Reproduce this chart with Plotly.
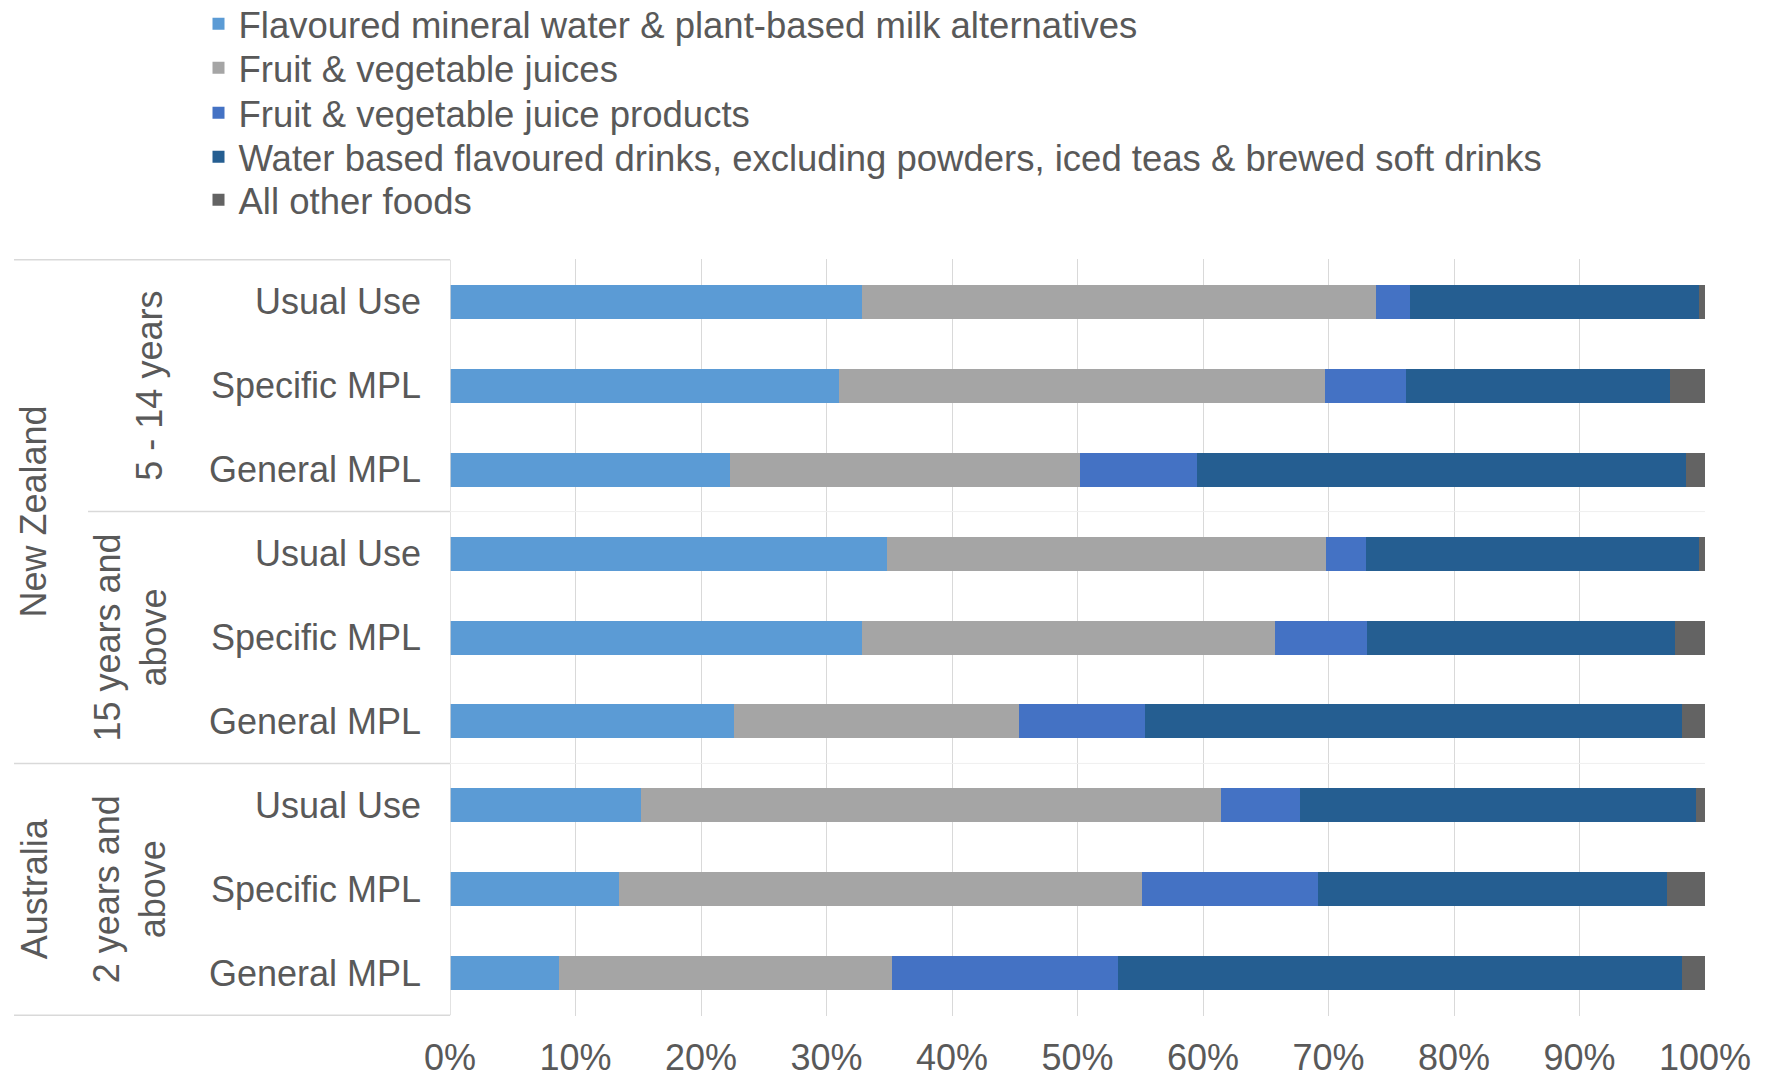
import plotly.graph_objects as go

# ---- data ----
row_ids = ["NZ1_UU", "NZ1_SM", "NZ1_GM", "NZ2_UU", "NZ2_SM", "NZ2_GM", "AU_UU", "AU_SM", "AU_GM"]
row_labels = ["Usual Use", "Specific MPL", "General MPL"] * 3

series_names = [
    "Flavoured mineral water & plant-based milk alternatives",
    "Fruit & vegetable juices",
    "Fruit & vegetable juice products",
    "Water based flavoured drinks, excluding powders, iced teas & brewed soft drinks",
    "All other foods",
]
flavoured_water = [32.8, 31.0, 22.3, 34.8, 32.8, 22.6, 15.2, 13.5, 8.7]
fv_juices       = [41.0, 38.7, 27.9, 35.0, 32.9, 22.7, 46.2, 41.6, 26.5]
fv_juice_prod   = [2.7, 6.5, 9.3, 3.2, 7.4, 10.1, 6.3, 14.1, 18.0]
water_based     = [23.0, 21.0, 39.0, 26.5, 24.5, 42.8, 31.6, 27.8, 45.0]
other_foods     = [0.5, 2.8, 1.5, 0.5, 2.4, 1.8, 0.7, 3.0, 1.8]
series_values = [flavoured_water, fv_juices, fv_juice_prod, water_based, other_foods]
colors = ["#5B9BD5", "#A5A5A5", "#4472C4", "#255E91", "#636363"]

x_ticks = list(range(0, 101, 10))

FONT = "Liberation Sans, Arial, sans-serif"
TXT = "#595959"
FS = 36

# page body has an 8px margin; figure coordinates are page coordinates minus 8
OFF = 8
W, H = 1757, 1070
L, T = 450 - OFF, 259 - OFF
R = W - (1705 - OFF)
B = H - (1016 - OFF)
pw = W - L - R
ph = H - T - B

def px_to_paper_x(px):
    return (px - OFF - L) / pw

def px_to_paper_y(py):
    return (H - B - (py - OFF)) / ph

legend_keys = ["legend", "legend2", "legend3", "legend4", "legend5"]
legend_y_px = [24, 68, 113, 157, 200]

fig = go.Figure()
for i, (name, vals, col) in enumerate(zip(series_names, series_values, colors)):
    fig.add_trace(go.Bar(
        y=row_ids, x=vals, name=name, orientation="h",
        marker=dict(color=col, line=dict(width=0)),
        legend=legend_keys[i], showlegend=True,
    ))

layout_legends = {}
for key, ypx in zip(legend_keys, legend_y_px):
    layout_legends[key] = dict(
        x=px_to_paper_x(198.5), y=px_to_paper_y(ypx), xanchor="left", yanchor="middle",
        font=dict(size=36.5, color=TXT, family=FONT),
        bgcolor="rgba(0,0,0,0)", borderwidth=0,
    )

fig.update_layout(
    width=W, height=H, showlegend=True,
    margin=dict(l=L, r=R, t=T, b=B, autoexpand=False),
    barmode="stack", bargap=0.595,
    paper_bgcolor="white", plot_bgcolor="white",
    font=dict(family=FONT, size=FS, color=TXT),
    xaxis=dict(
        range=[0, 100], tickvals=x_ticks, ticktext=[f"{v}%" for v in x_ticks],
        showgrid=True, gridcolor="#D9D9D9", gridwidth=1, zeroline=False,
        showline=False, ticks="", ticklabelstandoff=17,
        tickfont=dict(size=FS, color=TXT, family=FONT),
    ),
    yaxis=dict(
        categoryorder="array", categoryarray=row_ids, autorange="reversed",
        tickvals=row_ids, ticktext=row_labels, ticks="", ticklabelstandoff=28,
        showgrid=False, zeroline=False, showline=False,
        tickfont=dict(size=FS, color=TXT, family=FONT),
    ),
    **layout_legends,
)

line_col = "#D9D9D9"
shapes = []
shapes.append(dict(type="line", xref="x", yref="y", x0=0, x1=0, y0=-0.5, y1=8.5,
                   line=dict(color=line_col, width=1.5)))
for yv, x0px in [(-0.5, 14), (2.5, 88), (5.5, 14), (8.5, 14)]:
    shapes.append(dict(type="line", xref="paper", yref="y", x0=px_to_paper_x(x0px), x1=0,
                       y0=yv, y1=yv, line=dict(color=line_col, width=1.5)))
for yv in [2.5, 5.5]:
    shapes.append(dict(type="line", xref="x", yref="y", x0=0, x1=100, y0=yv, y1=yv,
                       line=dict(color="#EFEFEF", width=1)))
fig.update_layout(shapes=shapes)

ann = [
    ("New Zealand", 34, 2.5),
    ("5 - 14 years", 150, 1),
    ("15 years and<br>above", 130, 4),
    ("Australia", 34, 7),
    ("2 years and<br>above", 130, 7),
]
for text, xpx, yv in ann:
    fig.add_annotation(text=text, xref="paper", yref="y", x=px_to_paper_x(xpx), y=yv,
                       textangle=-90, showarrow=False, align="center",
                       xanchor="center", yanchor="middle",
                       font=dict(size=FS, color=TXT, family=FONT))

fig.write_html("out.html")
